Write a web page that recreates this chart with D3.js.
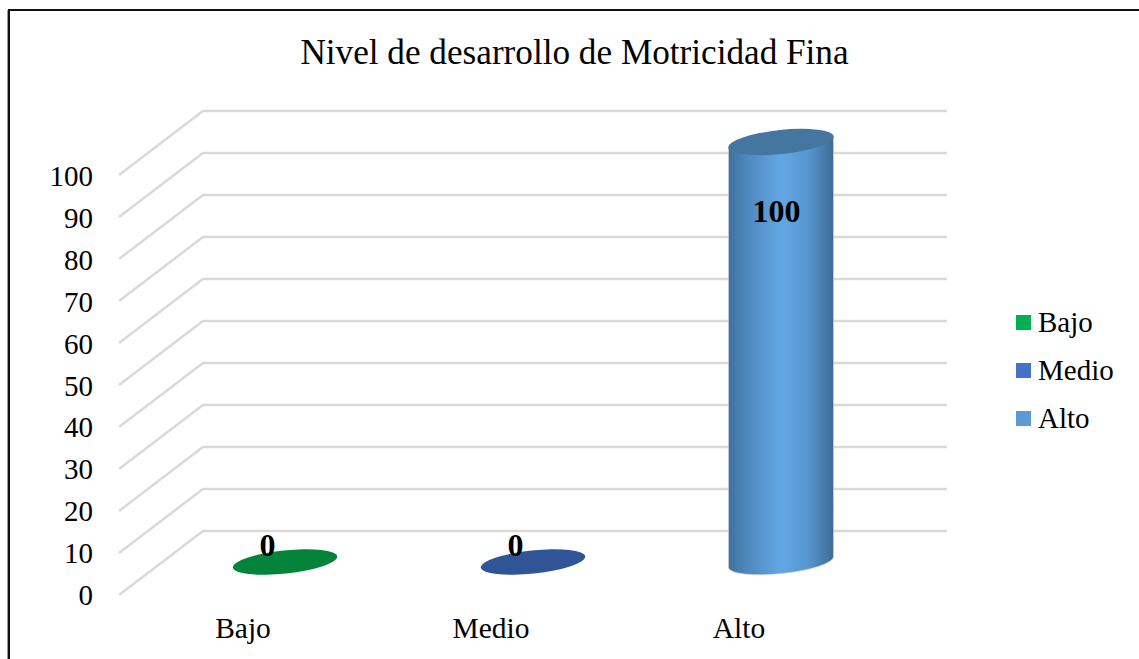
<!DOCTYPE html>
<html>
<head>
<meta charset="utf-8">
<script src="https://cdn.jsdelivr.net/npm/d3@7"></script>
<style>
html,body{margin:0;padding:0;background:#fff;}
svg{display:block;}
text{font-family:"Liberation Serif","Times New Roman",serif;fill:#000;}
</style>
</head>
<body>
<svg id="c" width="1139" height="659"></svg>
<script>
const titleText = "Nivel de desarrollo de Motricidad Fina";
const categories = ["Bajo", "Medio", "Alto"];
const values = [0, 0, 100];
const tickValues = [0, 10, 20, 30, 40, 50, 60, 70, 80, 90, 100];
const barColors = ["#04833a", "#2f5597", "#5fa5e3"];
const legendColors = ["#00b050", "#4472c4", "#5b9bd5"];

const W = 1139, H = 659;
const front = {x0: 119, x1: 863, y0: 595, y1: 175};
const depth = {dx: 84, dy: -64};

const svg = d3.select("#c");
const y = d3.scaleLinear().domain([0, 100]).range([front.y0, front.y1]);
const yLabel = d3.scaleLinear().domain([0, 100]).range([605, 186]);
const x = d3.scaleBand().domain(categories).range([front.x0, front.x1]);

// frame
svg.append("path")
  .attr("d", `M9,${H} V10 H${W}`)
  .attr("fill", "none").attr("stroke", "#111").attr("stroke-width", 2);
svg.append("line").attr("x1", 7.5).attr("x2", 7.5).attr("y1", 10).attr("y2", H)
  .attr("stroke", "#999").attr("stroke-width", 1);

// title
svg.append("text").attr("x", 574.5).attr("y", 64).attr("text-anchor", "middle")
  .attr("font-size", 35.2).text(titleText);

// gradient
const defs = svg.append("defs");
const grad = defs.append("linearGradient").attr("id", "cyl")
  .attr("x1", "0").attr("x2", "1").attr("y1", "0").attr("y2", "0");
[[0, "#3f6f9b"], [0.12, "#4b82b5"], [0.5, "#62a7e5"], [0.75, "#5797d2"], [0.92, "#467aa9"], [1, "#3f6a93"]]
  .forEach(([o, c]) => grad.append("stop").attr("offset", o).attr("stop-color", c));

// gridlines
const grid = svg.append("g").attr("fill", "none").attr("stroke", "#d9d9d9").attr("stroke-width", 2.5);
tickValues.forEach(t => {
  grid.append("path").attr("d",
    `M${front.x0},${y(t)} L${front.x0 + depth.dx},${y(t) + depth.dy} H${front.x1 + depth.dx}`);
});

// tick labels
svg.append("g").attr("font-size", 29).selectAll("text").data(tickValues).join("text")
  .attr("x", 93).attr("y", d => yLabel(d)).attr("text-anchor", "end").text(d => d);

// category labels
svg.append("g").attr("font-size", 29.5).selectAll("text").data(categories).join("text")
  .attr("x", d => x(d) + x.bandwidth() / 2).attr("y", 638).attr("text-anchor", "middle").text(d => d);

// cylinders
const rx = 52.5, ry = 11.5, tilt = -6;
const cx = d => x(d) + x.bandwidth() / 2 + depth.dx / 2;
const cy = v => y(v) + depth.dy / 2 - 1;
const bars = svg.append("g");
categories.forEach((cat, i) => {
  const v = values[i], c = cx(cat), b = cy(0), t = cy(v);
  const dxr = rx, dyr = rx * Math.tan(tilt * Math.PI / 180);
  if (v > 0) {
    const arc = `A${rx},${ry} ${tilt} 0 0 `;
    bars.append("path")
      .attr("d", `M${c - dxr},${t - dyr} L${c - dxr},${b - dyr} ${arc}${c + dxr},${b + dyr} L${c + dxr},${t + dyr} Z`)
      .attr("fill", "url(#cyl)")
      .attr("stroke", "#cfd6dc").attr("stroke-width", 0.6);
    bars.append("ellipse").attr("cx", c).attr("cy", t).attr("rx", rx + 0.5).attr("ry", ry + 0.5)
      .attr("transform", `rotate(${tilt} ${c} ${t})`).attr("fill", "#44769f");
  } else {
    bars.append("ellipse").attr("cx", c).attr("cy", b).attr("rx", rx).attr("ry", ry)
      .attr("transform", `rotate(${tilt} ${c} ${b})`).attr("fill", barColors[i]);
  }
});

// data labels
svg.append("g").attr("font-size", 32).attr("font-weight", "bold")
  .selectAll("text").data(values).join("text")
  .attr("x", (d, i) => cx(categories[i]) + (d > 0 ? -4.5 : -17.5))
  .attr("y", d => d > 0 ? cy(d) + 80 : cy(d) - 6)
  .attr("text-anchor", "middle").text(d => d);

// legend
const lg = svg.append("g").selectAll("g").data(categories).join("g")
  .attr("transform", (d, i) => `translate(1016,${315 + i * 48})`);
lg.append("rect").attr("width", 15).attr("height", 15).attr("fill", (d, i) => legendColors[i]);
lg.append("text").attr("x", 22).attr("y", 17).attr("font-size", 29).text(d => d);
</script>
</body>
</html>
